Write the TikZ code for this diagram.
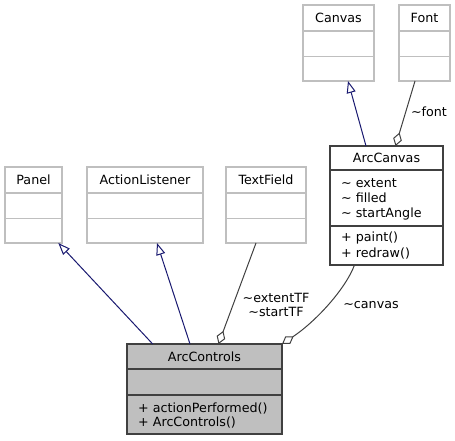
\documentclass[tikz,border=0pt]{standalone}
\usepackage{fontspec}
\setmainfont{DejaVu Sans}
\usetikzlibrary{arrows.meta,calc}
\definecolor{navyedge}{HTML}{191970}
\definecolor{edgegray}{HTML}{404040}
\definecolor{lightborder}{HTML}{BFBFBF}
\definecolor{ctrlfill}{HTML}{BFBFBF}
\begin{document}
\begin{tikzpicture}[x=1pt,y=-1pt,
  font=\fontsize{12.7}{14}\selectfont,
  extbox/.style={draw=lightborder, line width=1.1pt, fill=white, inner sep=0pt, outer sep=0pt, anchor=north west},
  mainbox/.style={draw=edgegray, line width=1.3pt, inner sep=0pt, outer sep=0pt, anchor=north west},
  extline/.style={draw=lightborder, line width=1.1pt},
  mainline/.style={draw=edgegray, line width=1.3pt},
  title/.style={anchor=base, inner sep=0pt},
  member/.style={anchor=base west, inner sep=0pt},
  lbl/.style={inner sep=0pt, align=center},
  inherit/.style={draw=navyedge, line width=1pt, -{Triangle[open,length=12pt,width=9pt,line width=1pt]}},
  aggr/.style={draw=edgegray, line width=1pt, {Diamond[open,length=14pt,width=9pt,line width=1pt]}-}
]
\useasboundingbox (0,0) rectangle (455,441);

% ---------- boxes ----------
\node[extbox, minimum width=71pt, minimum height=76pt] (canvas) at (303,5) {};
\draw[extline] (303,31) -- (374,31) (303,56.5) -- (374,56.5);
\node[title] (canvasT) at (338.5,22.6) {Canvas};

\node[extbox, minimum width=51pt, minimum height=76pt] (font) at (399,5) {};
\draw[extline] (399,31) -- (450,31) (399,56.5) -- (450,56.5);
\node[title] (fontT) at (424.5,22.6) {Font};

\node[extbox, minimum width=57pt, minimum height=76pt] (panel) at (5,167) {};
\draw[extline] (5,193) -- (62,193) (5,218.5) -- (62,218.5);
\node[title] (panelT) at (33.5,184.6) {Panel};

\node[extbox, minimum width=116pt, minimum height=76pt] (al) at (87,167) {};
\draw[extline] (87,193) -- (203,193) (87,218.5) -- (203,218.5);
\node[title] (alT) at (145,184.6) {ActionListener};

\node[extbox, minimum width=80pt, minimum height=76pt] (tf) at (226,167) {};
\draw[extline] (226,193) -- (306,193) (226,218.5) -- (306,218.5);
\node[title] (tfT) at (266,184.6) {TextField};

\node[mainbox, fill=white, minimum width=113pt, minimum height=119pt] (ac) at (330,146) {};
\draw[mainline] (330,170) -- (443,170) (330,226) -- (443,226);
\node[title] (acT) at (386.5,162.3) {ArcCanvas};
\node[member] (ac1) at (341,187.1) {\textasciitilde{} extent};
\node[member] (ac2) at (341,202.1) {\textasciitilde{} filled};
\node[member] (ac3) at (341,217.1) {\textasciitilde{} startAngle};
\node[member] (ac4) at (341,241.6) {+ paint()};
\node[member] (ac5) at (341,257.1) {+ redraw()};

\node[mainbox, fill=ctrlfill, minimum width=155pt, minimum height=90pt] (ctl) at (127,344) {};
\draw[mainline] (127,369) -- (282,369) (127,395) -- (282,395);
\node[title] (ctlT) at (204.5,361.6) {ArcControls};
\node[member] (ctl1) at (138,412.1) {+ actionPerformed()};
\node[member] (ctl2) at (138,426.1) {+ ArcControls()};

% ---------- connector end points ----------
\coordinate (ctlA) at (152.7,344);
\coordinate (ctlB) at (190,344);
\coordinate (ctlC) at (218.5,344);
\coordinate (ctlD) at (282,344);
\coordinate (panelB) at (58.3,243);
\coordinate (alB) at (157,243);
\coordinate (tfB) at (256,243);
\coordinate (acB) at (354.5,265);
\coordinate (acTopA) at (366,146);
\coordinate (acTopB) at (395.5,146);
\coordinate (canvasB) at (348,81);
\coordinate (fontB) at (415,81);

% ---------- connectors ----------
\draw[inherit] (ctlA) -- (panelB);
\draw[inherit] (ctlB) -- (alB);
\draw[inherit] (acTopA) -- (canvasB);
\draw[aggr] (ctlC) -- (tfB);
\draw[aggr] (ctlD) .. controls (315,322) and (345,290) .. (acB);
\draw[aggr] (acTopB) -- (fontB);

% ---------- labels ----------
\node[lbl] (lblTF) at (276,305) {\textasciitilde{}extentTF\\\textasciitilde{}startTF};
\node[lbl] (lblCanvas) at (371,305) {\textasciitilde{}canvas};
\node[lbl] (lblFont) at (429,112) {\textasciitilde{}font};
\end{tikzpicture}
\end{document}
